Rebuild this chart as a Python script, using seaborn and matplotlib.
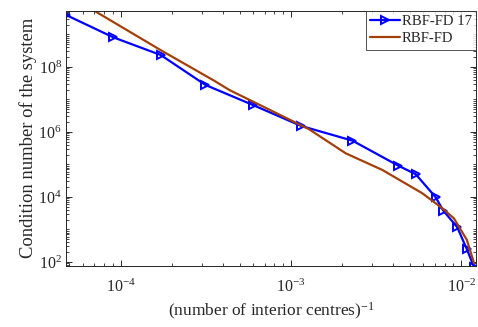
import numpy as np
import pandas as pd
import matplotlib
matplotlib.use("Agg")
import matplotlib.pyplot as plt
from matplotlib.ticker import LogLocator, NullFormatter
import seaborn as sns

# Inverse number of interior centres and condition numbers
h_rbf17 = [4.78e-5, 9.05e-5, 1.72e-4, 3.15e-4, 5.97e-4, 1.15e-3, 2.30e-3,
           4.27e-3, 5.41e-3, 7.08e-3, 7.85e-3, 9.48e-3, 1.08e-2, 1.19e-2]
cond_rbf17 = [4.0e9, 8.2e8, 2.34e8, 2.8e7, 6.8e6, 1.53e6, 5.4e5,
              9.2e4, 5.0e4, 9.8e3, 3.8e3, 1.17e3, 245, 69]

h_rbf = [4.78e-5, 7.0e-5, 1.72e-4, 3.57e-4, 4.36e-4, 1.28e-3, 2.1e-3,
         3.44e-3, 5.91e-3, 7.74e-3, 9.06e-3, 1.08e-2, 1.19e-2]
cond_rbf = [1.7e10, 5.4e9, 3.3e8, 3.7e7, 1.95e7, 1.21e6, 2.2e5,
            6.8e4, 1.3e4, 4.5e3, 2.2e3, 475, 91]

labels = ["RBF-FD 17", "RBF-FD"]

sns.set_style("ticks")
plt.rcParams["font.family"] = ["Liberation Serif", "DejaVu Serif"]
plt.rcParams["mathtext.fontset"] = "custom"
plt.rcParams["mathtext.rm"] = "Liberation Serif"
plt.rcParams["mathtext.it"] = "Liberation Serif:italic"

df17 = pd.DataFrame({"h": h_rbf17, "cond": cond_rbf17})
dfr = pd.DataFrame({"h": h_rbf, "cond": cond_rbf})

fig = plt.figure(figsize=(4.78, 3.27), dpi=100)
ax = fig.add_axes([66 / 478, 61 / 327, 410.5 / 478, 255.3 / 327])

sns.lineplot(data=df17, x="h", y="cond", ax=ax, color="#0000ff", lw=1.6,
             marker=">", markersize=6, markerfacecolor="none",
             markeredgecolor="#0000ff", markeredgewidth=1.4,
             label=labels[0], sort=False, estimator=None)
sns.lineplot(data=dfr, x="h", y="cond", ax=ax, color="#a2400c", lw=1.6,
             label=labels[1], sort=False, estimator=None)

ax.set_xscale("log")
ax.set_yscale("log")
ax.set_xlim(4.78e-5, 1.23e-2)
ax.set_ylim(75, 5.4e9)

ax.set_xticks([1e-4, 1e-3, 1e-2])
ax.set_yticks([1e2, 1e4, 1e6, 1e8])
ax.xaxis.set_minor_locator(LogLocator(base=10, subs=np.arange(1, 10), numticks=20))
ax.yaxis.set_minor_locator(LogLocator(base=10, subs=np.arange(1, 10), numticks=20))
ax.xaxis.set_minor_formatter(NullFormatter())
ax.yaxis.set_minor_formatter(NullFormatter())

ax.tick_params(which="both", direction="in", top=True, right=True,
               colors="#262626", labelsize=11.5)
ax.tick_params(which="major", length=4, width=0.7)
ax.tick_params(which="minor", length=2, width=0.6)
ax.tick_params(axis="x", which="major", pad=9)
ax.tick_params(axis="y", which="major", pad=3)
for s in ax.spines.values():
    s.set_visible(True)
    s.set_linewidth(0.7)
    s.set_color("#262626")

ax.set_xlabel(r"(number of interior centres)$^{\mathregular{-1}}$", fontsize=12.5,
              color="#262626", labelpad=4)
ax.set_ylabel("Condition number of the system", fontsize=13.4, color="#262626",
              labelpad=1)

leg = ax.legend(loc="upper right", fontsize=10.6, frameon=True, fancybox=False,
                borderaxespad=0, handlelength=2.0, handletextpad=0.15,
                borderpad=0.3, labelspacing=0.25)
leg.get_frame().set_edgecolor("#262626")
leg.get_frame().set_linewidth(0.7)

fig.savefig("out.png", dpi=100)
